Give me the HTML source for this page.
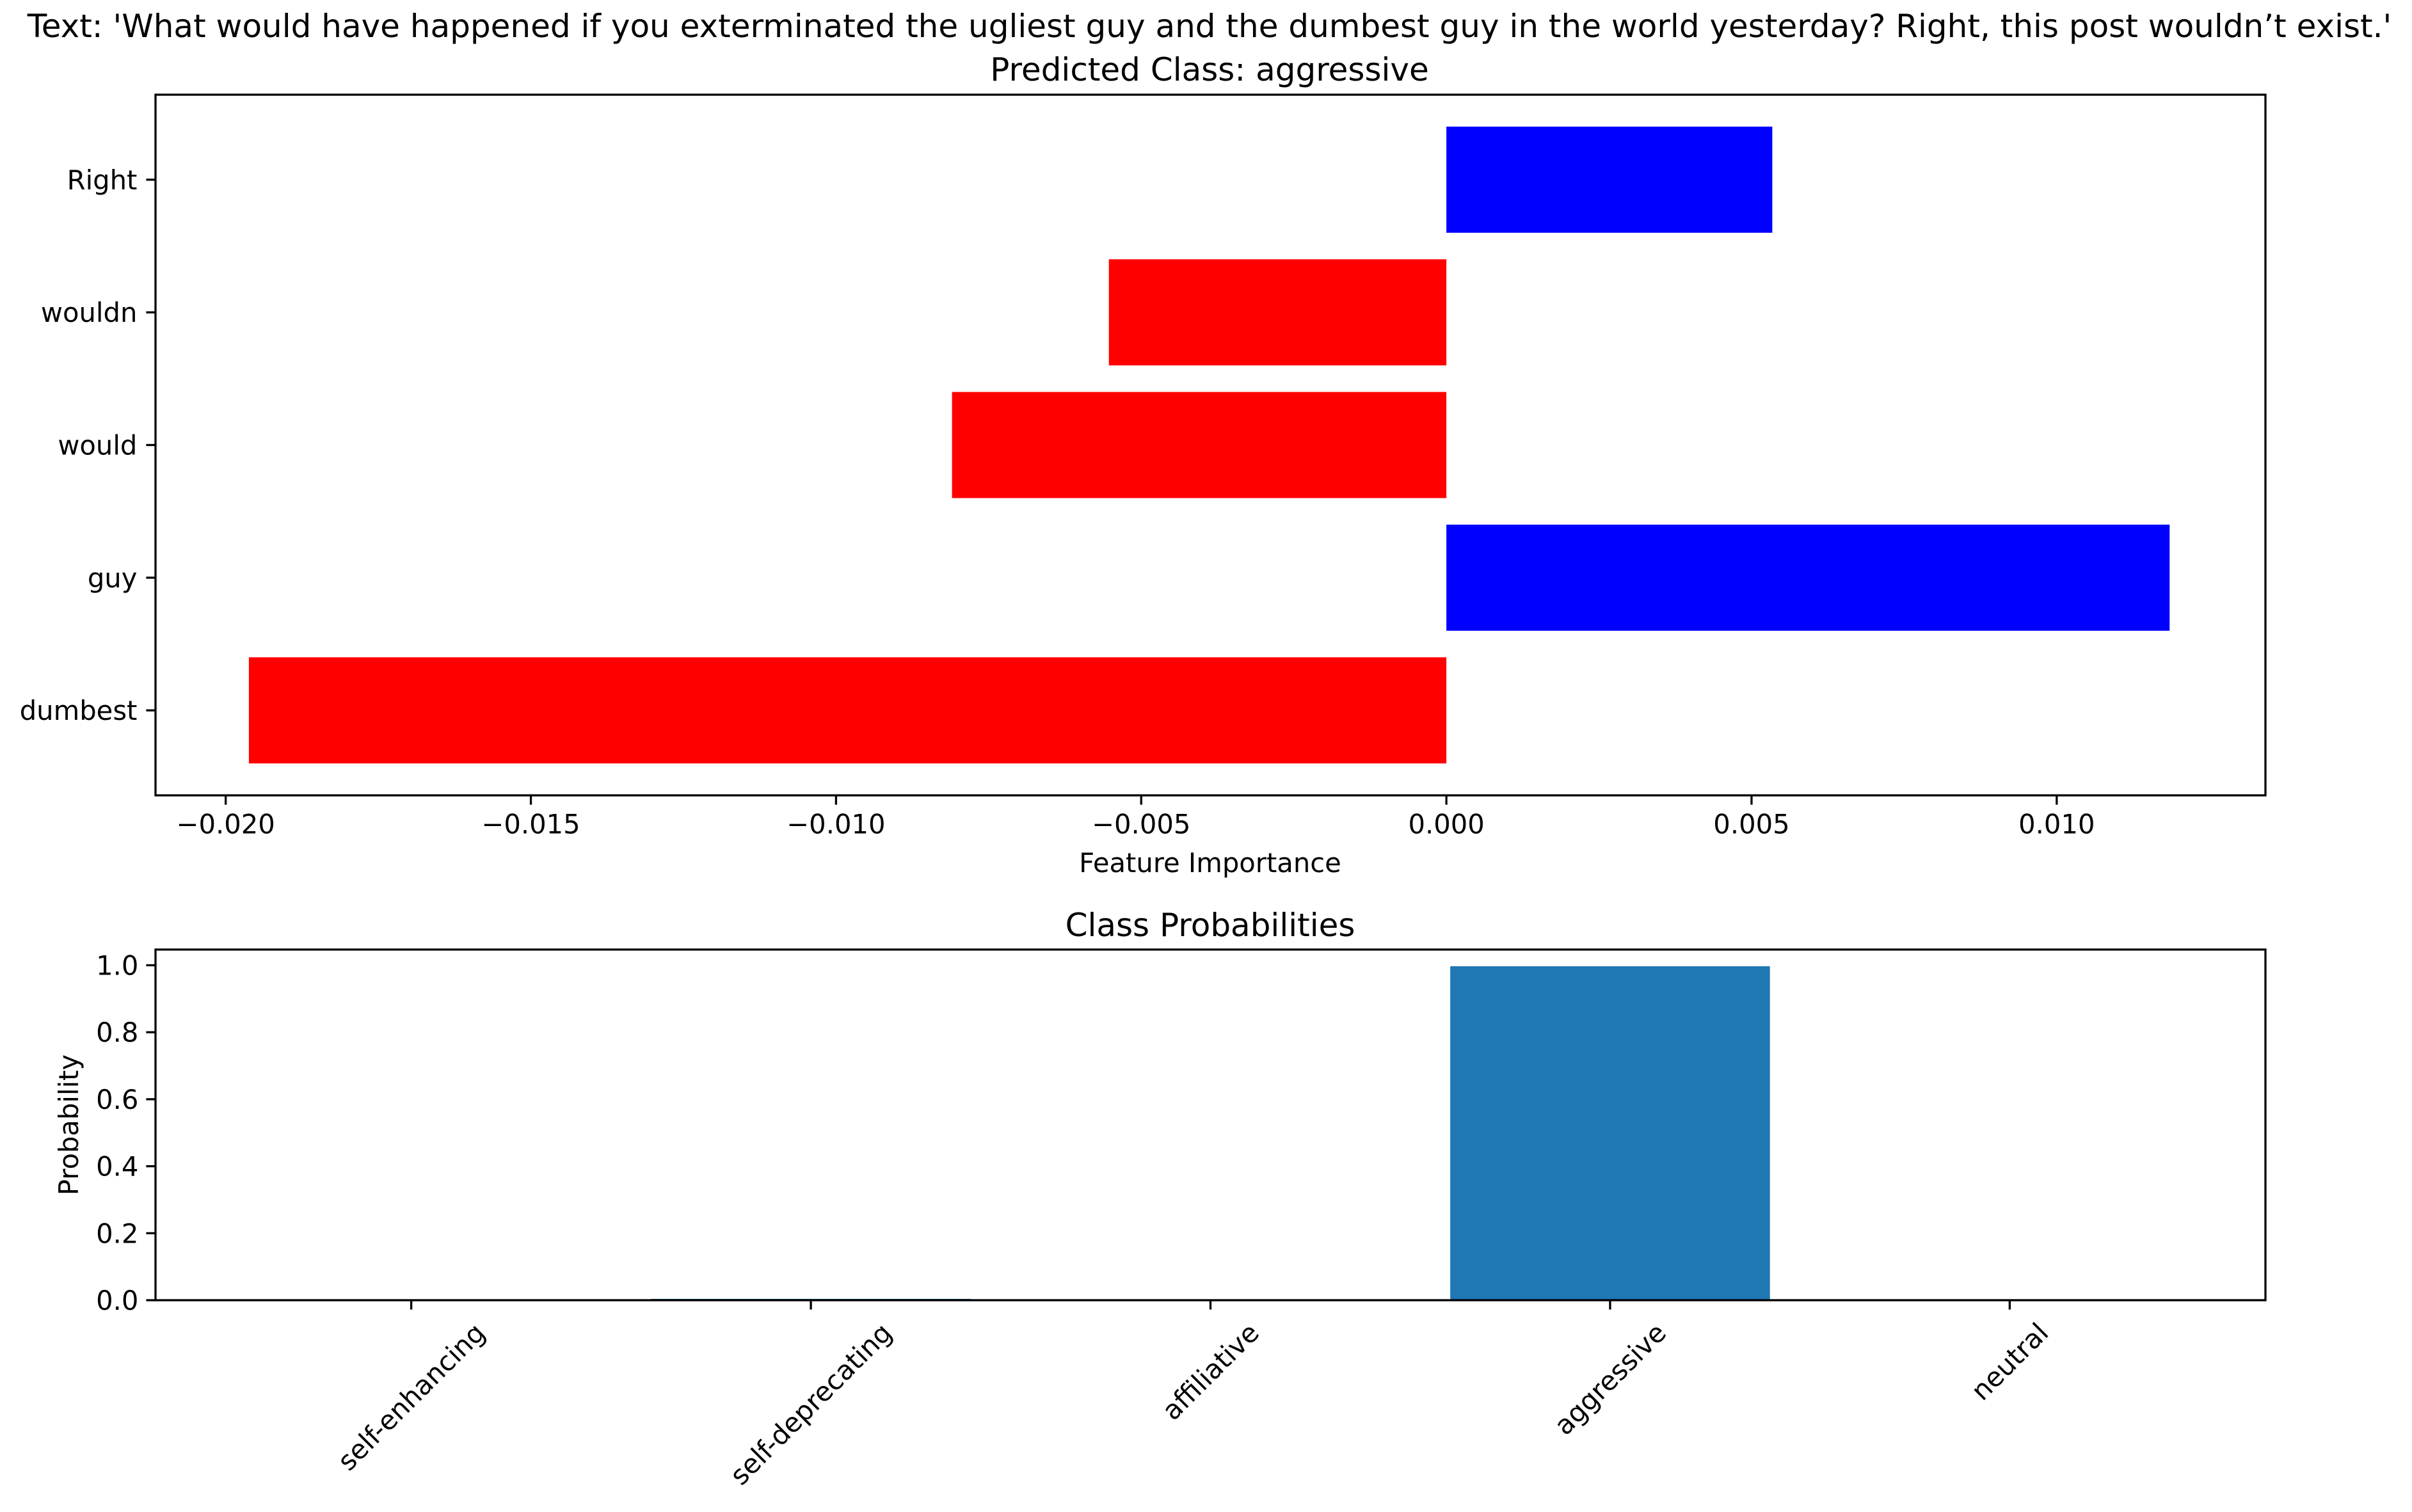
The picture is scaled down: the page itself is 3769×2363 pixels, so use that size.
<!DOCTYPE html>
<html><head><meta charset="utf-8"><style>
html,body{margin:0;padding:0;background:#fff}
svg text{font-family:"DejaVu Sans","Liberation Sans",sans-serif;fill:#000}
</style></head><body>
<svg id="fig" width="3769" height="2358" viewBox="0 0 3769 2358" xmlns="http://www.w3.org/2000/svg">
<rect width="3769" height="2358" fill="#fff"/>
<text x="1890" y="58" font-size="50" text-anchor="middle">Text: 'What would have happened if you exterminated the ugliest guy and the dumbest guy in the world yesterday? Right, this post wouldn’t exist.'</text>
<text x="1890" y="126" font-size="50" text-anchor="middle">Predicted Class: aggressive</text>
<g id="topAx"></g>
<g id="botAx"></g>
<text x="1891" y="1363" font-size="41.7" text-anchor="middle">Feature Importance</text>
<text x="1891" y="1463" font-size="50" text-anchor="middle">Class Probabilities</text>
<text transform="translate(122,1758) rotate(-90)" font-size="41.7" text-anchor="middle">Probability</text>
</svg>
<script>
const words = ["dumbest","guy","would","wouldn","Right"];
const importance = [-0.01962, 0.01185, -0.0081, -0.00553, 0.00534];
const xTicks = [-0.020,-0.015,-0.010,-0.005,0.000,0.005,0.010];
const xTickLabels = ["−0.020","−0.015","−0.010","−0.005","0.000","0.005","0.010"];
const classes = ["self-enhancing","self-deprecating","affiliative","aggressive","neutral"];
const probs = [0.0005, 0.004, 0.0005, 0.997, 0.0005];
const yTicks = [0,0.2,0.4,0.6,0.8,1.0];
const yTickLabels = ["0.0","0.2","0.4","0.6","0.8","1.0"];

const NS="http://www.w3.org/2000/svg";
const FS=41.7, TL=14.6, LW=3.3;
function mk(tag,attrs,parent){const e=document.createElementNS(NS,tag);for(const k in attrs)e.setAttribute(k,attrs[k]);parent.appendChild(e);return e;}

// top axes
const TA={l:243,r:3540,t:148,b:1243};
const gTop=document.getElementById('topAx');
const xmin=-0.02115,xmax=0.01342;
const fx=v=>TA.l+(v-xmin)/(xmax-xmin)*(TA.r-TA.l);
const yr0=-0.4-0.2406,yr1=4.4+0.2406;
const fy=i=>TA.b-(i-yr0)/(yr1-yr0)*(TA.b-TA.t);
const bh=(TA.b-TA.t)/(yr1-yr0)*0.8;
importance.forEach((v,i)=>{
  const x0=Math.min(fx(0),fx(v)),x1=Math.max(fx(0),fx(v));
  const r=mk('rect',{x:x0,y:fy(i)-bh/2,width:x1-x0,height:bh,fill:v<0?'#ff0000':'#0000ff'},gTop);
  
  
  mk('line',{x1:TA.l-TL,x2:TA.l,y1:fy(i),y2:fy(i),stroke:'#000','stroke-width':LW},gTop);
  const t=mk('text',{x:TA.l-TL-14,y:fy(i)+15,'font-size':FS,'text-anchor':'end'},gTop);
  t.textContent=words[i];
  
  
});
xTicks.forEach((v,i)=>{
  mk('line',{x1:fx(v),x2:fx(v),y1:TA.b,y2:TA.b+TL,stroke:'#000','stroke-width':LW},gTop);
  const t=mk('text',{x:fx(v),y:TA.b+TL+14+31,'font-size':FS,'text-anchor':'middle'},gTop);
  t.textContent=xTickLabels[i];
  
  
});
const f1=mk('rect',{x:TA.l,y:TA.t,width:TA.r-TA.l,height:TA.b-TA.t,fill:'none',stroke:'#000','stroke-width':LW},gTop);



// bottom axes
const BA={l:243,r:3540,t:1484,b:2032};
const gBot=document.getElementById('botAx');
const cx0=-0.64,cx1=4.64;
const gx=i=>BA.l+(i-cx0)/(cx1-cx0)*(BA.r-BA.l);
const pmax=Math.max(...probs)*1.05;
const gy=v=>BA.b-v/pmax*(BA.b-BA.t);
const bw=(BA.r-BA.l)/(cx1-cx0)*0.8;
probs.forEach((v,i)=>{
  const r=mk('rect',{x:gx(i)-bw/2,y:gy(v),width:bw,height:BA.b-gy(v),fill:'#1f77b4'},gBot);
  
  
  mk('line',{x1:gx(i),x2:gx(i),y1:BA.b,y2:BA.b+TL,stroke:'#000','stroke-width':LW},gBot);
  const t=mk('text',{'font-size':FS,'text-anchor':'middle','dominant-baseline':'central'},gBot);
  t.textContent=classes[i];
  
  
  let w=0; try{w=t.getComputedTextLength();}catch(e){w=classes[i].length*FS*0.6;}
  const half=(w+FS)*Math.SQRT1_2/2;
  const cy=BA.b+TL+14+half;
  t.setAttribute('x',gx(i));t.setAttribute('y',cy);
  t.setAttribute('transform','rotate(-45 '+gx(i)+' '+cy+')');
});
yTicks.forEach((v,i)=>{
  mk('line',{x1:BA.l-TL,x2:BA.l,y1:gy(v),y2:gy(v),stroke:'#000','stroke-width':LW},gBot);
  const t=mk('text',{x:BA.l-TL-12,y:gy(v)+15,'font-size':FS,'text-anchor':'end'},gBot);
  t.textContent=yTickLabels[i];
  
  
});
const f2=mk('rect',{x:BA.l,y:BA.t,width:BA.r-BA.l,height:BA.b-BA.t,fill:'none',stroke:'#000','stroke-width':LW},gBot);


</script>
</body></html>
